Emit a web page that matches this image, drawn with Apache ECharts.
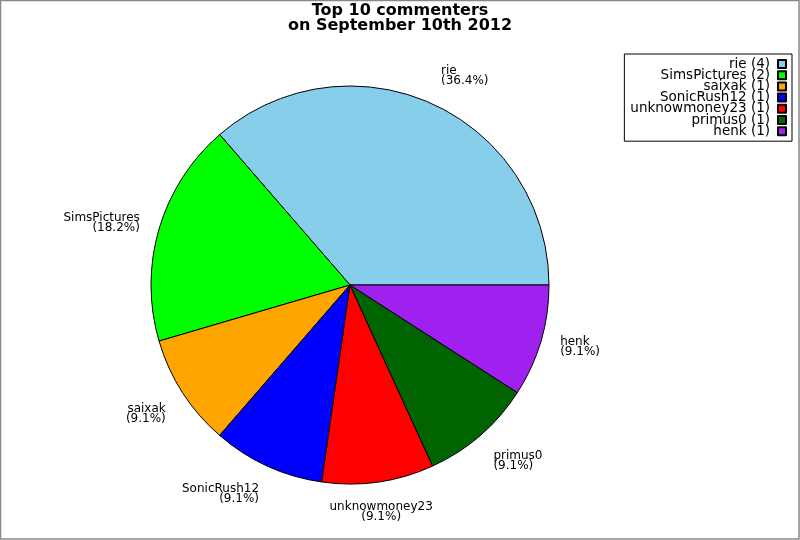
<!DOCTYPE html>
<html>
<head>
<meta charset="utf-8">
<script src="https://cdn.jsdelivr.net/npm/echarts@6/dist/echarts.min.js"></script>
<style>
html,body{margin:0;padding:0;background:#fff;}
#chart{width:800px;height:540px;}
</style>
</head>
<body>
<div id="chart"></div>
<script>
const categories = ['rie', 'SimsPictures', 'saixak', 'SonicRush12', 'unknowmoney23', 'primus0', 'henk'];
const values = [4, 2, 1, 1, 1, 1, 1];
const colors = ['#87CEEB', '#00FF00', '#FFA500', '#0000FF', '#FF0000', '#006400', '#A020F0'];
const titleLines = ['Top 10 commenters', 'on September 10th 2012'];

const total = values.reduce((a, b) => a + b, 0);
const CENTER = [350, 285];
const RADIUS = 199;
const LABEL_R = 219;

// mid angles (degrees, counter-clockwise from 3 o'clock) derived from the values
const midAngles = [];
(function () {
  let cum = 0;
  values.forEach(v => { midAngles.push(360 * (cum + v / 2) / total); cum += v; });
})();

const data = categories.map((name, i) => ({ name: name, value: values[i], itemStyle: { color: colors[i] } }));

const chart = echarts.init(document.getElementById('chart'), null, { renderer: 'canvas' });
chart.setOption({
  animation: false,
  backgroundColor: '#fff',
  graphic: [{
    type: 'rect', silent: true, z: -10,
    shape: { x: 0.5, y: 0.5, width: 798.5, height: 538.5 },
    style: { fill: 'none', stroke: '#888', lineWidth: 1.5 }
  }],
  title: {
    text: titleLines.join('\n'),
    left: 'center',
    top: -2,
    textStyle: { fontFamily: 'DejaVu Sans', fontWeight: 'bold', fontSize: 16, lineHeight: 15, color: '#000' }
  },
  legend: {
    orient: 'vertical',
    right: 8,
    top: 54,
    align: 'right',
    backgroundColor: '#fff',
    borderColor: '#000',
    borderWidth: 1,
    borderRadius: 0,
    padding: [3, 5, 3, 6],
    itemWidth: 8,
    itemHeight: 8,
    itemGap: -2.8,
    icon: 'rect',
    formatter: function (name) { return name + ' (' + values[categories.indexOf(name)] + ')'; },
    textStyle: { fontFamily: 'DejaVu Sans', fontSize: 13.5, lineHeight: 11.2, color: '#000', padding: [0, 3, 0, 0] },
    data: categories
  },
  series: [{
    type: 'pie',
    center: CENTER,
    radius: RADIUS,
    startAngle: 0,
    clockwise: false,
    avoidLabelOverlap: false,
    itemStyle: { borderColor: '#000', borderWidth: 1 },
    emphasis: { disabled: true },
    label: {
      show: true,
      position: 'outside',
      distanceToLabelLine: 0,
      fontFamily: 'DejaVu Sans',
      fontSize: 12,
      lineHeight: 10,
      color: '#000',
      formatter: function (p) { return p.name + '\n(' + (p.value / total * 100).toFixed(1) + '%)'; }
    },
    labelLine: { show: false, length: 20, length2: 0 },
    labelLayout: function (params) {
      const a = midAngles[params.dataIndex] * Math.PI / 180;
      const c = Math.cos(a), s = Math.sin(a);
      const x = CENTER[0] + LABEL_R * c;
      const y = CENTER[1] - LABEL_R * s;
      const align = Math.abs(c) < 0.2 ? 'center' : (c > 0 ? 'left' : 'right');
      const verticalAlign = Math.abs(s) < 0.4 ? 'middle' : (s > 0 ? 'bottom' : 'top');
      return { x: x, y: y, align: align, verticalAlign: verticalAlign };
    },
    data: data
  }]
});
</script>
</body>
</html>
